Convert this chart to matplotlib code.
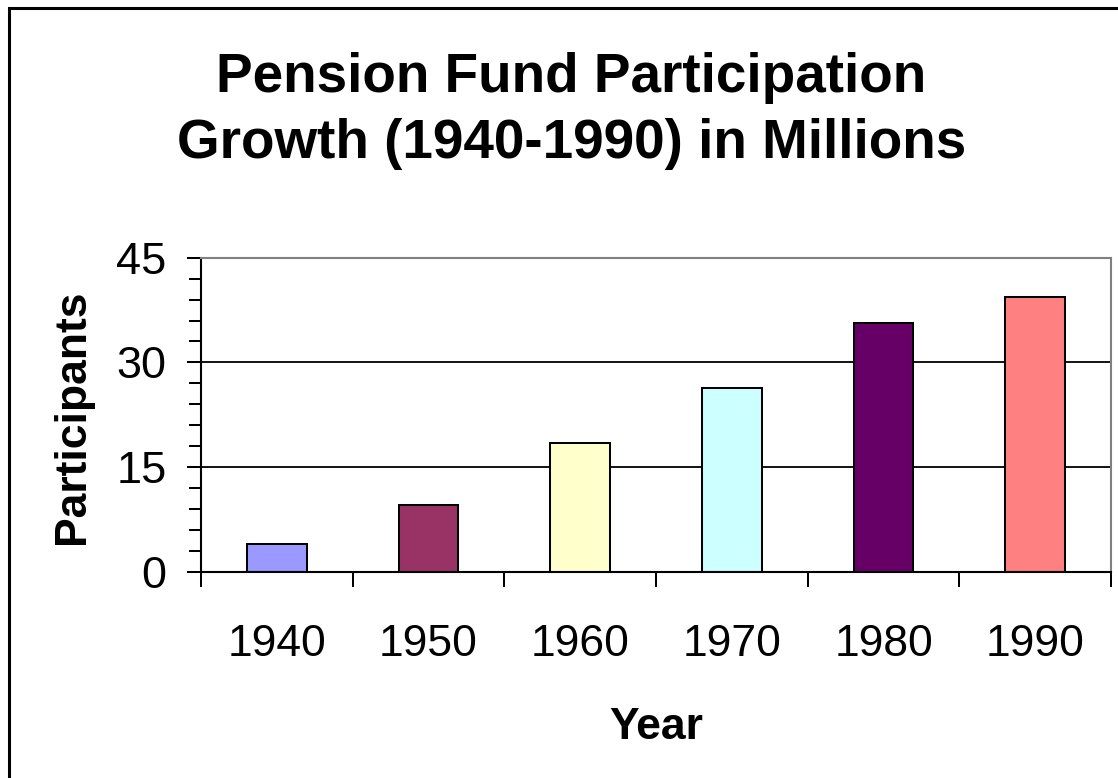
import matplotlib
matplotlib.use("Agg")
import matplotlib.pyplot as plt
from matplotlib.lines import Line2D
from matplotlib.ticker import MultipleLocator, FixedLocator
import numpy as np

years = ["1940", "1950", "1960", "1970", "1980", "1990"]
participants = [4.0, 9.6, 18.5, 26.3, 35.7, 39.3]
bar_colors = ["#9999FF", "#993366", "#FFFFCC", "#CCFFFF", "#660066", "#FF8080"]
y_ticks = [0, 15, 30, 45]

plt.rcParams['font.family'] = ['Liberation Sans', 'DejaVu Sans']

W, H = 1118, 778
fig = plt.figure(figsize=(W / 100, H / 100), dpi=100)
fig.patch.set_facecolor("white")

ax_left, ax_right, ax_top, ax_bottom = 201, 1111, 257.7, 571.7
ax = fig.add_axes([ax_left / W, 1 - ax_bottom / H,
                   (ax_right - ax_left) / W, (ax_bottom - ax_top) / H])

x = np.arange(len(years))
ax.bar(x, participants, width=0.395, color=bar_colors, edgecolor="black",
       linewidth=1.45, zorder=3)

ax.set_xlim(-0.5, len(years) - 0.5)
ax.set_ylim(0, 45)

# y axis
ax.set_yticks(y_ticks)
ax.set_yticklabels([str(v) for v in y_ticks], fontsize=32.5)
ax.yaxis.set_minor_locator(MultipleLocator(3))
ax.tick_params(axis="y", which="major", direction="out", length=10.3,
               width=1.45, pad=14.5, colors="black")
ax.tick_params(axis="y", which="minor", direction="out", length=8.5,
               width=1.45)

# x axis: labels at centers, tick marks at boundaries
ax.set_xticks(x)
ax.set_xticklabels(years, fontsize=32)
ax.xaxis.set_minor_locator(FixedLocator(np.arange(len(years) + 1) - 0.5))
ax.tick_params(axis="x", which="major", length=0, pad=37.4)
ax.tick_params(axis="x", which="minor", direction="out", length=10.8,
               width=1.45)

# gridlines
ax.set_axisbelow(True)
ax.yaxis.grid(True, which="major", color="black", linewidth=1.3)
for t in ax.yaxis.get_major_ticks():
    if t.get_loc() in (0, 45):
        t.gridline.set_visible(False)

for side in ("left", "bottom"):
    ax.spines[side].set_color("black")
    ax.spines[side].set_linewidth(1.5)
for side in ("top", "right"):
    ax.spines[side].set_color("#808080")
    ax.spines[side].set_linewidth(1.5)
ax.spines["bottom"].set_zorder(4)

# title (two lines)
fig.text(571 / W, 1 - 92 / H, "Pension Fund Participation",
         ha="center", va="baseline", fontsize=39.5, fontweight="bold")
fig.text(572 / W, 1 - 157.5 / H, "Growth (1940-1990) in Millions",
         ha="center", va="baseline", fontsize=39.5, fontweight="bold")

# axis labels
fig.text(84 / W, 1 - 416.7 / H, "Participants", rotation=90,
         rotation_mode="anchor", ha="center", va="baseline",
         fontsize=32, fontweight="bold")
fig.text(656 / W, 1 - 739 / H, "Year", ha="center", va="baseline",
         fontsize=32, fontweight="bold")

# outer border (top and left visible)
fig.add_artist(Line2D([9 / W, 9 / W, 1.0], [0.0, 1 - 8 / H, 1 - 8 / H],
                      transform=fig.transFigure, color="black",
                      linewidth=2.2, solid_joinstyle="miter"))

fig.savefig("out.png", dpi=100, facecolor="white")
